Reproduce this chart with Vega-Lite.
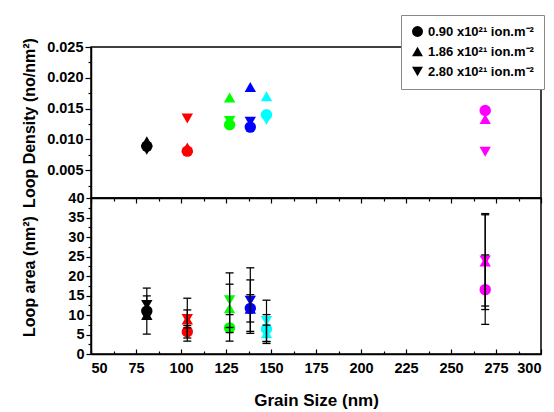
{
  "$schema": "https://vega.github.io/schema/vega-lite/v6.json",
  "background": "white",
  "padding": {"left": 20, "top": 13, "right": 5, "bottom": 4},
  "config": {
    "view": {"stroke": "black", "strokeWidth": 1.5},
    "font": "Liberation Sans",
    "axis": {
      "grid": false,
      "domainColor": "black",
      "domainWidth": 1.5,
      "tickColor": "black",
      "tickWidth": 1.2,
      "labelFont": "Liberation Sans",
      "labelFontWeight": "bold",
      "labelFontSize": 14.5,
      "labelColor": "black",
      "titleFont": "Liberation Sans",
      "titleFontWeight": "bold",
      "titleFontSize": 16,
      "titleColor": "black"
    }
  },
  "data": {
    "values": [
      {"sample": "G81", "grain": 81, "fluence": "0.90 x10²¹ ion.m⁻²", "density": 0.0089, "area": 11.0, "lo": 5.1, "hi": 16.9},
      {"sample": "G81", "grain": 81, "fluence": "1.86 x10²¹ ion.m⁻²", "density": 0.0097, "area": 10.0, "lo": 9.3, "hi": 10.7},
      {"sample": "G81", "grain": 81, "fluence": "2.80 x10²¹ ion.m⁻²", "density": 0.0083, "area": 12.6, "lo": 10.3, "hi": 14.9},
      {"sample": "G103", "grain": 103.5, "fluence": "0.90 x10²¹ ion.m⁻²", "density": 0.0081, "area": 5.7, "lo": 4.1, "hi": 7.3},
      {"sample": "G103", "grain": 103.5, "fluence": "1.86 x10²¹ ion.m⁻²", "density": 0.0087, "area": 8.8, "lo": 3.3, "hi": 14.3},
      {"sample": "G103", "grain": 103.5, "fluence": "2.80 x10²¹ ion.m⁻²", "density": 0.0134, "area": 9.0, "lo": 6.7, "hi": 11.3},
      {"sample": "G127", "grain": 127, "fluence": "0.90 x10²¹ ion.m⁻²", "density": 0.0124, "area": 6.7, "lo": 3.3, "hi": 10.1},
      {"sample": "G127", "grain": 127, "fluence": "1.86 x10²¹ ion.m⁻²", "density": 0.0168, "area": 11.7, "lo": 5.5, "hi": 17.9},
      {"sample": "G127", "grain": 127, "fluence": "2.80 x10²¹ ion.m⁻²", "density": 0.0130, "area": 13.8, "lo": 6.8, "hi": 20.8},
      {"sample": "G138", "grain": 138.5, "fluence": "0.90 x10²¹ ion.m⁻²", "density": 0.0120, "area": 11.7, "lo": 8.2, "hi": 15.2},
      {"sample": "G138", "grain": 138.5, "fluence": "1.86 x10²¹ ion.m⁻²", "density": 0.0185, "area": 11.6, "lo": 5.8, "hi": 19.0},
      {"sample": "G138", "grain": 138.5, "fluence": "2.80 x10²¹ ion.m⁻²", "density": 0.0129, "area": 13.7, "lo": 5.3, "hi": 22.1},
      {"sample": "G147", "grain": 147.5, "fluence": "0.90 x10²¹ ion.m⁻²", "density": 0.0140, "area": 6.4, "lo": 2.7, "hi": 10.1},
      {"sample": "G147", "grain": 147.5, "fluence": "1.86 x10²¹ ion.m⁻²", "density": 0.0170, "area": 5.3, "lo": 3.2, "hi": 7.4},
      {"sample": "G147", "grain": 147.5, "fluence": "2.80 x10²¹ ion.m⁻²", "density": 0.0132, "area": 8.5, "lo": 3.2, "hi": 13.8},
      {"sample": "G269", "grain": 269, "fluence": "0.90 x10²¹ ion.m⁻²", "density": 0.0147, "area": 16.5, "lo": 7.6, "hi": 25.4},
      {"sample": "G269", "grain": 269, "fluence": "1.86 x10²¹ ion.m⁻²", "density": 0.0133, "area": 23.7, "lo": 11.4, "hi": 36.0},
      {"sample": "G269", "grain": 269, "fluence": "2.80 x10²¹ ion.m⁻²", "density": 0.0080, "area": 24.0, "lo": 12.3, "hi": 35.7}
    ]
  },
  "bounds": "flush",
  "spacing": 0,
  "resolve": {"legend": {"shape": "independent"}},
  "vconcat": [
    {
      "width": 450,
      "height": 151,
      "mark": {"type": "point", "filled": true, "opacity": 1, "size": 130},
      "encoding": {
        "x": {
          "field": "grain", "type": "quantitative",
          "scale": {"domain": [50, 300], "nice": false},
          "axis": {
            "title": null, "labels": false,
            "values": [50, 62.5, 75, 87.5, 100, 112.5, 125, 137.5, 150, 162.5, 175, 187.5, 200, 212.5, 225, 237.5, 250, 262.5, 275, 287.5, 300],
            "tickSize": {"condition": {"test": "datum.value % 25 != 0", "value": 3}, "value": 5}
          }
        },
        "y": {
          "field": "density", "type": "quantitative",
          "scale": {"domain": [0.0005, 0.025], "nice": false, "zero": false},
          "axis": {
            "title": "Loop Density (no/nm²)",
            "titleX": -54,
            "values": [0.0025, 0.005, 0.0075, 0.01, 0.0125, 0.015, 0.0175, 0.02, 0.0225, 0.025],
            "labelExpr": "round(datum.value * 400) % 2 == 1 ? '' : format(datum.value, '.3f')",
            "labelPadding": 2,
            "tickSize": {"condition": {"test": "round(datum.value * 400) % 2 == 1", "value": 3}, "value": 6}
          }
        },
        "color": {
          "field": "sample", "type": "nominal",
          "scale": {"domain": ["G81", "G103", "G127", "G138", "G147", "G269"], "range": ["#000000", "#ff0000", "#00ff00", "#0000ff", "#00ffff", "#ff00ff"]},
          "legend": null
        },
        "shape": {
          "field": "fluence", "type": "nominal",
          "scale": {"domain": ["0.90 x10²¹ ion.m⁻²", "1.86 x10²¹ ion.m⁻²", "2.80 x10²¹ ion.m⁻²"], "range": ["circle", "triangle-up", "triangle-down"]},
          "legend": {
            "title": null,
            "orient": "none",
            "legendX": 310,
            "legendY": -32,
            "fillColor": "white",
            "strokeColor": "#888888",
            "padding": 10,
            "rowPadding": 6,
            "symbolSize": 120,
            "symbolFillColor": "black",
            "symbolStrokeColor": "black",
            "symbolStrokeWidth": 0,
            "labelFont": "Liberation Sans",
            "labelFontWeight": "bold",
            "labelFontSize": 13,
            "labelColor": "black",
            "labelLimit": 200
          }
        }
      }
    },
    {
      "width": 450,
      "height": 156,
      "encoding": {
        "x": {
          "field": "grain", "type": "quantitative",
          "scale": {"domain": [50, 300], "nice": false},
          "axis": {
            "title": "Grain Size (nm)",
            "titleFontSize": 17,
            "titlePadding": 18,
            "values": [50, 62.5, 75, 87.5, 100, 112.5, 125, 137.5, 150, 162.5, 175, 187.5, 200, 212.5, 225, 237.5, 250, 262.5, 275, 287.5, 300],
            "labelExpr": "datum.value % 25 == 0 ? format(datum.value, 'd') : ''",
            "labelPadding": 12,
            "tickSize": {"condition": {"test": "datum.value % 25 != 0", "value": -3}, "value": -5}
          }
        }
      },
      "layer": [
        {
          "mark": {"type": "point", "filled": true, "opacity": 1, "size": 130},
          "encoding": {
            "y": {
              "field": "area", "type": "quantitative",
              "scale": {"domain": [0, 40], "nice": false},
              "axis": {
                "title": "Loop area (nm²)",
                "titleX": -54,
                "values": [0, 2.5, 5, 7.5, 10, 12.5, 15, 17.5, 20, 22.5, 25, 27.5, 30, 32.5, 35, 37.5, 40],
                "labelExpr": "datum.value % 5 != 0 ? '' : format(datum.value, 'd')",
                "labelPadding": 2,
                "tickSize": {"condition": {"test": "datum.value % 5 != 0", "value": 3}, "value": 5}
              }
            },
            "color": {
              "field": "sample", "type": "nominal",
              "scale": {"domain": ["G81", "G103", "G127", "G138", "G147", "G269"], "range": ["#000000", "#ff0000", "#00ff00", "#0000ff", "#00ffff", "#ff00ff"]},
              "legend": null
            },
            "shape": {
              "field": "fluence", "type": "nominal",
              "scale": {"domain": ["0.90 x10²¹ ion.m⁻²", "1.86 x10²¹ ion.m⁻²", "2.80 x10²¹ ion.m⁻²"], "range": ["circle", "triangle-up", "triangle-down"]},
              "legend": null
            }
          }
        },
        {
          "mark": {"type": "rule", "color": "black", "strokeWidth": 1.2},
          "encoding": {
            "y": {
              "field": "lo", "type": "quantitative",
              "scale": {"domain": [0, 40], "nice": false},
              "axis": {
                "title": "Loop area (nm²)",
                "titleX": -54,
                "values": [0, 2.5, 5, 7.5, 10, 12.5, 15, 17.5, 20, 22.5, 25, 27.5, 30, 32.5, 35, 37.5, 40],
                "labelExpr": "datum.value % 5 != 0 ? '' : format(datum.value, 'd')",
                "labelPadding": 2,
                "tickSize": {"condition": {"test": "datum.value % 5 != 0", "value": 3}, "value": 5}
              }
            },
            "y2": {"field": "hi"}
          }
        },
        {
          "mark": {"type": "tick", "orient": "horizontal", "color": "black", "size": 8, "thickness": 1.3, "opacity": 1},
          "encoding": {
            "y": {
              "field": "lo", "type": "quantitative",
              "scale": {"domain": [0, 40], "nice": false},
              "axis": {
                "title": "Loop area (nm²)",
                "titleX": -54,
                "values": [0, 2.5, 5, 7.5, 10, 12.5, 15, 17.5, 20, 22.5, 25, 27.5, 30, 32.5, 35, 37.5, 40],
                "labelExpr": "datum.value % 5 != 0 ? '' : format(datum.value, 'd')",
                "labelPadding": 2,
                "tickSize": {"condition": {"test": "datum.value % 5 != 0", "value": 3}, "value": 5}
              }
            }
          }
        },
        {
          "mark": {"type": "tick", "orient": "horizontal", "color": "black", "size": 8, "thickness": 1.3, "opacity": 1},
          "encoding": {
            "y": {
              "field": "hi", "type": "quantitative",
              "scale": {"domain": [0, 40], "nice": false},
              "axis": {
                "title": "Loop area (nm²)",
                "titleX": -54,
                "values": [0, 2.5, 5, 7.5, 10, 12.5, 15, 17.5, 20, 22.5, 25, 27.5, 30, 32.5, 35, 37.5, 40],
                "labelExpr": "datum.value % 5 != 0 ? '' : format(datum.value, 'd')",
                "labelPadding": 2,
                "tickSize": {"condition": {"test": "datum.value % 5 != 0", "value": 3}, "value": 5}
              }
            }
          }
        }
      ]
    }
  ]
}
